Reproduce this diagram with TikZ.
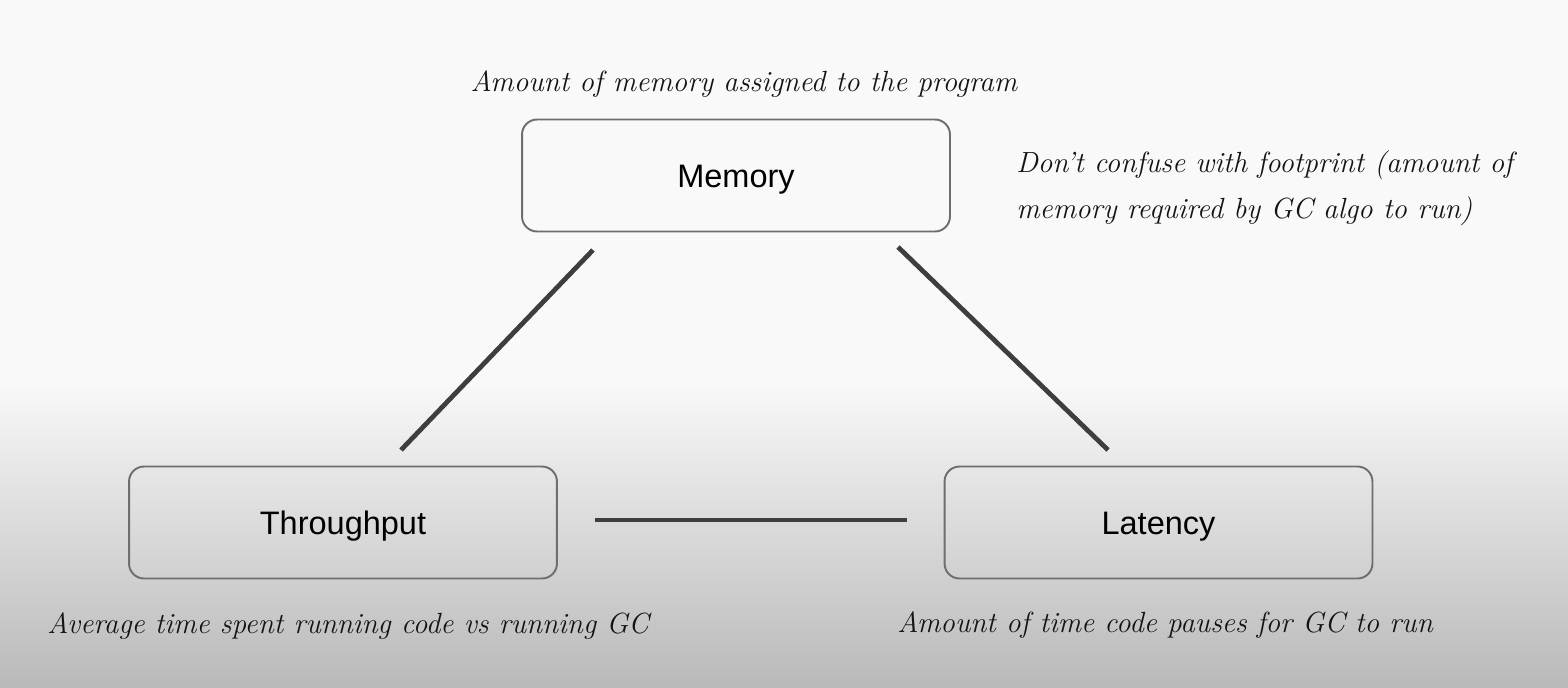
\documentclass[tikz,border=0pt]{standalone}
\usepackage{fontspec}
\usetikzlibrary{positioning}
\newfontfamily\boxfont{Liberation Sans}
\newfontfamily\notefont{Latin Modern Roman}
\definecolor{boxgray}{HTML}{6E6E6E}
\definecolor{linkgray}{HTML}{3E3E3E}
\definecolor{bgtop}{HTML}{F9F9F9}
\definecolor{bgbot}{HTML}{B9B9B9}
\definecolor{notecol}{HTML}{141414}

\begin{document}
\begin{tikzpicture}[
  x=0.02cm, y=-0.02cm,
  box/.style={draw=boxgray, line width=1.1pt, rounded corners=0.3cm,
    minimum width=8.56cm, minimum height=2.24cm, inner sep=0pt,
    text height=13.3pt, text depth=0pt,
    font=\boxfont\fontsize{18.5}{22}\selectfont},
  note/.style={inner sep=0pt, text=notecol,
    font=\notefont\itshape\fontsize{16.6}{26}\selectfont},
  link/.style={draw=linkgray, line width=2.7pt}
]
% background
\fill[bgtop] (0,0) rectangle (1568,380);
\shade[top color=bgtop, bottom color=bgbot] (0,380) rectangle (1568,687);
\useasboundingbox (0,0) rectangle (1568,687);

% the three boxes
\node[box] (mem) at (736,175.5) {Memory};
\node[box] (thr) at (343,522.5) {Throughput};
\node[box] (lat) at (1158.5,522.5) {Latency};

% notes
\node[note, anchor=base] (memnote) at (744,91) {Amount of memory assigned to the program};
\node[note, anchor=base west, align=left] (footnote) at (1016,218)
  {Don’t confuse with footprint (amount of\\memory required by GC algo to run)};
\node[note, anchor=base west] (thrnote) at (47,633) {Average time spent running code vs running GC};
\node[note, anchor=base west] (latnote) at (897,632) {Amount of time code pauses for GC to run};

% ends of the links
\coordinate (mt1) at (593,250);
\coordinate (mt2) at (401,450);
\coordinate (ml1) at (898,247);
\coordinate (ml2) at (1108,450);
\coordinate (tl1) at (595,520);
\coordinate (tl2) at (907,520);

\draw[link] (mt1) -- (mt2);
\draw[link] (ml1) -- (ml2);
\draw[link] (tl1) -- (tl2);
\end{tikzpicture}
\end{document}
